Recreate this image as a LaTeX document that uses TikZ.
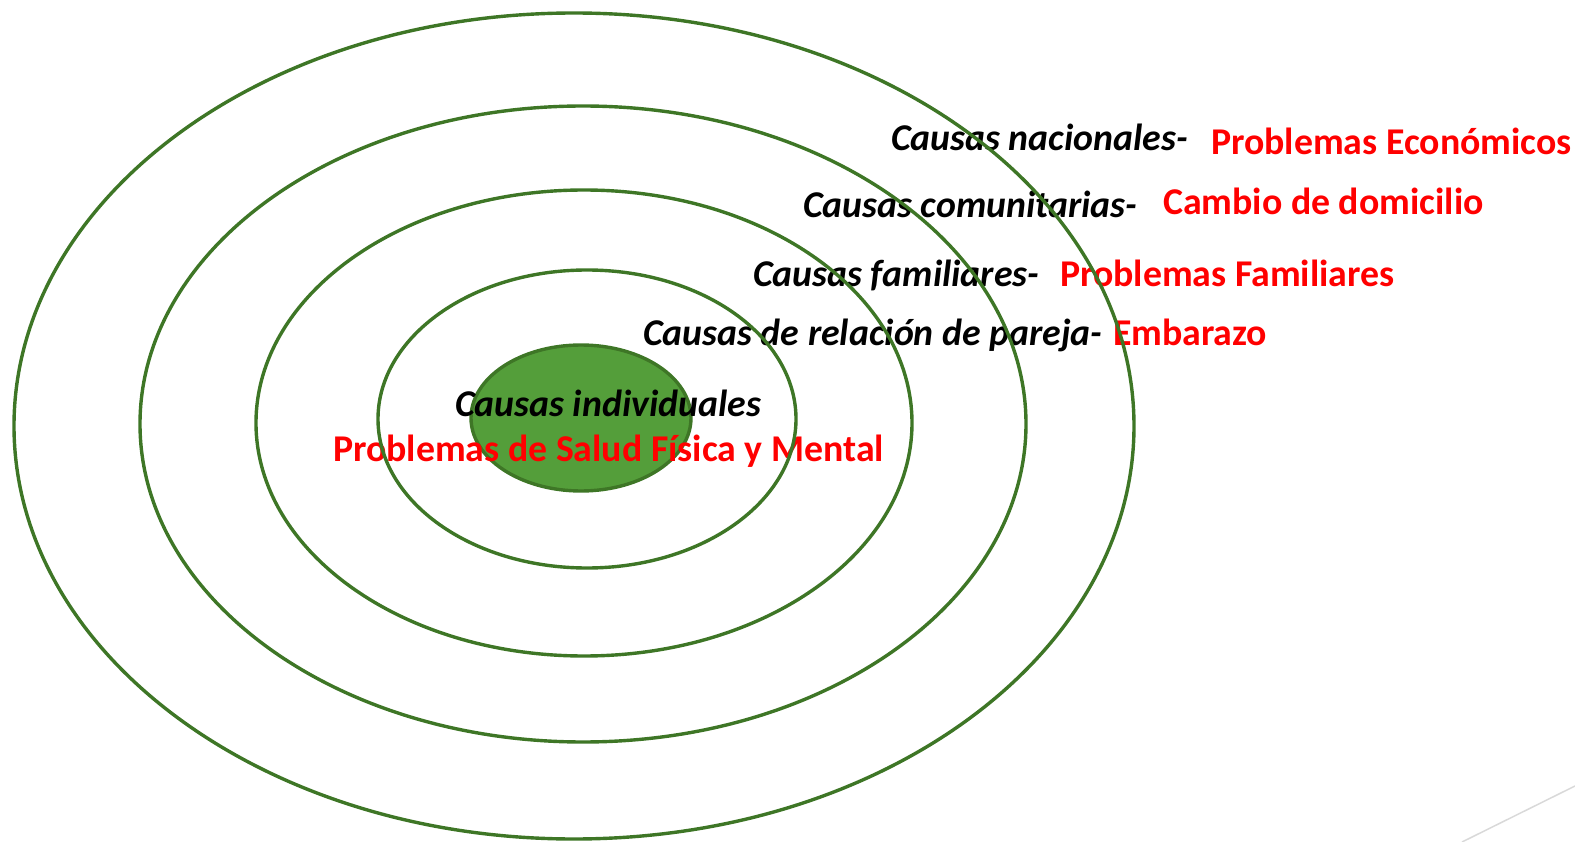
\documentclass[tikz,border=0pt]{standalone}
\usepackage{fontspec}
\setmainfont{Carlito}
\usetikzlibrary{shapes.geometric}
\definecolor{ringgreen}{RGB}{62,118,38}
\definecolor{fillgreen}{RGB}{84,158,58}
\definecolor{txtred}{RGB}{255,0,0}
\definecolor{lightgray}{RGB}{217,217,217}
\tikzset{
  ring/.style={draw=ringgreen, line width=3.4pt, ellipse, inner sep=0pt},
  core/.style={draw=ringgreen, fill=fillgreen, line width=3.4pt, ellipse, inner sep=0pt},
  cause/.style={anchor=base west, inner sep=0pt, font=\fontsize{37.8}{40}\selectfont\bfseries\itshape, text=black},
  effect/.style={anchor=base west, inner sep=0pt, font=\fontsize{37.8}{40}\selectfont\bfseries, text=txtred},
}
\begin{document}
\begin{tikzpicture}[x=1pt,y=-1pt]
\useasboundingbox (0,0) rectangle (1575,842);
% core
\node[core, minimum width=220pt, minimum height=146pt] (c0) at (581,418) {};
% texts
\node[cause] (t1) at (891,151) {Causas nacionales-};
\node[effect] (e1) at (1211,155) {Problemas Económicos};
\node[cause] (t2) at (803,218) {Causas comunitarias-};
\node[effect] (e2) at (1163,215) {Cambio de domicilio};
\node[cause] (t3) at (753,287) {Causas familiares-};
\node[effect] (e3) at (1060,287) {Problemas Familiares};
\node[cause] (t4) at (643,345) {Causas de relación de pareja-};
\node[effect] (e4) at (1113,345) {Embarazo};
\node[cause] (t5) at (455,417) {Causas individuales};
\node[effect] (e5) at (333,461) {Problemas de Salud Física y Mental};
% rings
\node[ring, minimum width=1120pt, minimum height=826pt] (r4) at (574,426) {};
\node[ring, minimum width=886pt, minimum height=636pt] (r3) at (583,424) {};
\node[ring, minimum width=656pt, minimum height=466pt] (r2) at (584,423) {};
\node[ring, minimum width=418pt, minimum height=298pt] (r1) at (587,419) {};
% corner line
\coordinate (g1) at (1462,842);
\coordinate (g2) at (1575,786);
\draw[lightgray, line width=1.5pt] (g1) -- (g2);
\end{tikzpicture}
\end{document}
